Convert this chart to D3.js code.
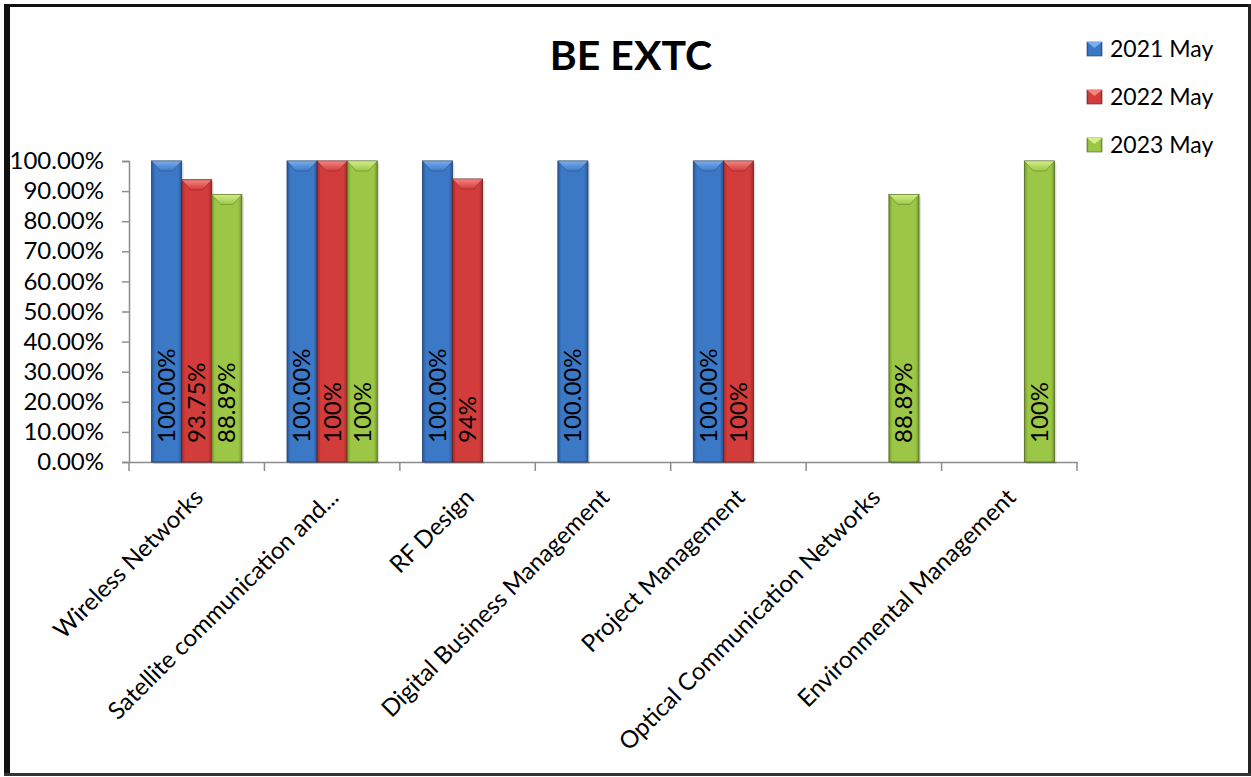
<!DOCTYPE html>
<html><head><meta charset="utf-8">
<script src="https://cdn.jsdelivr.net/npm/d3@7"></script>
<style>body{margin:0;background:#fff}svg{display:block}</style>
</head><body><svg id="chart" width="1251" height="777"></svg>
<script>
const categories = ["Wireless Networks","Satellite communication and...","RF Design","Digital Business Management","Project Management","Optical Communication Networks","Environmental Management"];
const seriesNames = ["2021 May","2022 May","2023 May"];
const values2021 = [1, 1, 1, 1, 1, null, null];
const values2022 = [0.9375, 1, 0.94, null, 1, null, null];
const values2023 = [0.8889, 1, null, null, null, 0.8889, 1];
const labels2021 = ["100.00%","100.00%","100.00%","100.00%","100.00%",null,null];
const labels2022 = ["93.75%","100%","94%",null,"100%",null,null];
const labels2023 = ["88.89%","100%",null,null,null,"88.89%","100%"];
const yTickValues = [0,0.1,0.2,0.3,0.4,0.5,0.6,0.7,0.8,0.9,1.0];
const chartTitle = "BE EXTC";

const seriesValues = [values2021, values2022, values2023];
const seriesLabels = [labels2021, labels2022, labels2023];
const palette = [
  {base:"#3b78c6", light:"#7aaeee", dark:"#28579a", stroke:"#1f3f6e"},
  {base:"#d23c3b", light:"#f58481", dark:"#a02a29", stroke:"#6e1c1b"},
  {base:"#9cc646", light:"#d2f08a", dark:"#769a2c", stroke:"#4a6419"}
];
const FONT = "Lato, 'Open Sans', sans-serif";

const svg = d3.select("#chart");
const defs = svg.append("defs");
palette.forEach((c,i)=>{
  const g = defs.append("linearGradient").attr("id","side"+i).attr("x1","0").attr("x2","1").attr("y1","0").attr("y2","0");
  g.append("stop").attr("offset","0").attr("stop-color",c.dark);
  g.append("stop").attr("offset","0.12").attr("stop-color",c.base);
  g.append("stop").attr("offset","0.5").attr("stop-color",c.base);
  g.append("stop").attr("offset","0.88").attr("stop-color",c.base);
  g.append("stop").attr("offset","1").attr("stop-color",c.dark);
  const t = defs.append("linearGradient").attr("id","top"+i).attr("x1","0").attr("x2","0").attr("y1","0").attr("y2","1");
  t.append("stop").attr("offset","0").attr("stop-color",c.light);
  t.append("stop").attr("offset","1").attr("stop-color",c.base);
});

// frame
svg.append("rect").attr("x",0).attr("y",0).attr("width",1251).attr("height",777).attr("fill","#fff");
svg.append("rect").attr("x",4).attr("y",4).attr("width",6).attr("height",772).attr("fill","#111");
svg.append("rect").attr("x",4).attr("y",4).attr("width",1246).attr("height",3).attr("fill","#111");
svg.append("rect").attr("x",1248).attr("y",4).attr("width",3).attr("height",772).attr("fill","#222");
svg.append("rect").attr("x",4).attr("y",773).attr("width",1247).attr("height",3).attr("fill","#333");

const x0 = d3.scaleBand().domain(categories).range([129,1077]).paddingInner(0).paddingOuter(0);
const x1 = d3.scaleBand().domain(seriesNames).range([0,x0.bandwidth()]).paddingInner(0).paddingOuter(0.75);
const y = d3.scaleLinear().domain([0,1]).range([462,161]);

// y axis
const yAxis = svg.append("g").attr("transform","translate(129,0)")
  .call(d3.axisLeft(y).tickValues(yTickValues).tickFormat(d3.format(".2%")).tickSize(7).tickPadding(18));
yAxis.selectAll("line,path").attr("stroke","#8c8c8c").attr("stroke-width",1.5);
yAxis.selectAll("text").attr("font-family",FONT).attr("font-size",24).attr("fill","#000");

// x axis
const xAxis = svg.append("g").attr("transform","translate(0,462)")
  .call(d3.axisBottom(x0).tickSize(0).tickFormat(""));
xAxis.select("path").attr("stroke","#8c8c8c").attr("stroke-width",1.5);
const bounds = d3.range(categories.length+1).map(i=> i<categories.length ? x0(categories[i]) : x0.range()[1]);
svg.append("g").selectAll("line").data(bounds).join("line")
  .attr("x1",d=>d).attr("x2",d=>d).attr("y1",462).attr("y2",471).attr("stroke","#8c8c8c").attr("stroke-width",1.5);

// x labels
svg.append("g").selectAll("text").data(categories).join("text")
  .attr("transform",d=>`translate(${x0(d)+x0.bandwidth()/2+2},${493}) rotate(-45)`)
  .attr("text-anchor","end").attr("dy","0.35em")
  .attr("font-family",FONT).attr("font-size",24).attr("fill","#000").text(d=>d);

// bars
const bars = [];
categories.forEach((c,ci)=>{
  seriesNames.forEach((s,si)=>{
    const v = seriesValues[si][ci];
    if(v!=null) bars.push({c, s, si, v, label: seriesLabels[si][ci]});
  });
});
const bw = x1.bandwidth();
const bg = svg.append("g").selectAll("g").data(bars).join("g")
  .attr("transform",d=>`translate(${x0(d.c)+x1(d.s)},0)`);
bg.append("rect").attr("x",2).attr("y",d=>y(d.v)+2).attr("width",bw).attr("height",d=>y(0)-y(d.v))
  .attr("fill","rgba(0,0,0,0.12)");
bg.append("rect").attr("x",0).attr("y",d=>y(d.v)).attr("width",bw).attr("height",d=>y(0)-y(d.v))
  .attr("fill",d=>`url(#side${d.si})`).attr("stroke",d=>palette[d.si].stroke).attr("stroke-width",0.8);
bg.append("path").attr("d",d=>{const t=y(d.v);return `M0,${t}L${bw},${t}L${bw-9},${t+10}L9,${t+10}Z`;})
  .attr("fill",d=>`url(#top${d.si})`).attr("stroke",d=>palette[d.si].stroke).attr("stroke-width",0.4);
bg.append("text").attr("transform",`translate(${bw/2},443) rotate(-90)`)
  .attr("text-anchor","start").attr("dy","0.35em")
  .attr("font-family",FONT).attr("font-size",24).attr("fill","#000").text(d=>d.label);

// title
svg.append("text").attr("x",631).attr("y",70).attr("text-anchor","middle")
  .attr("font-family",FONT).attr("font-weight","bold").attr("font-size",41).attr("fill","#000").text(chartTitle);

// legend
const lg = svg.append("g").selectAll("g").data(seriesNames).join("g")
  .attr("transform",(d,i)=>`translate(1087,${42+i*48})`);
lg.append("rect").attr("width",15).attr("height",14).attr("fill",(d,i)=>`url(#side${i})`).attr("stroke",(d,i)=>palette[i].stroke).attr("stroke-width",0.6);
lg.append("path").attr("d","M0,0L15,0L7.5,6Z").attr("fill",(d,i)=>palette[i].light);
lg.append("text").attr("x",23).attr("y",7).attr("dy","0.35em")
  .attr("font-family",FONT).attr("font-size",23).attr("fill","#000").text(d=>d);
</script></body></html>
